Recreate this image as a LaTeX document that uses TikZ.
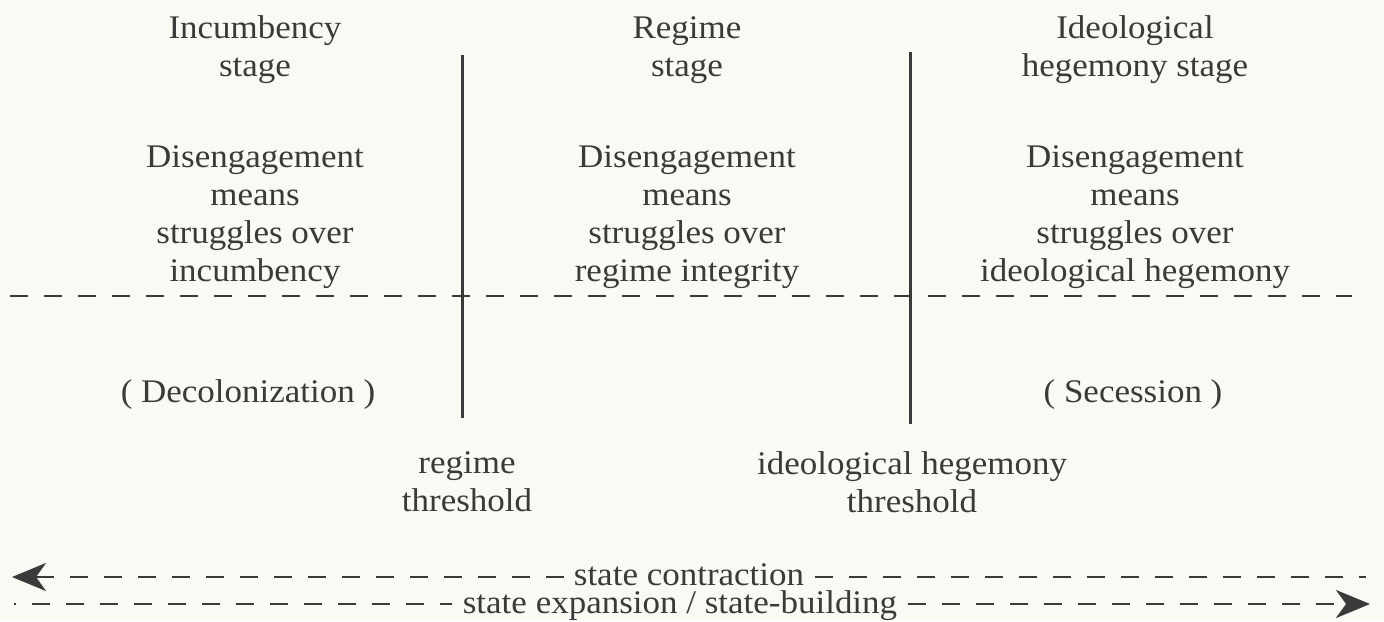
\documentclass[tikz,border=0pt]{standalone}
\usepackage{fontspec}
\setmainfont[FakeStretch=1.06]{Liberation Serif}
\usetikzlibrary{arrows.meta}
\definecolor{ink}{HTML}{3A3A3A}
\definecolor{paper}{HTML}{FAFAF5}
\begin{document}
\begin{tikzpicture}[x=0.5pt,y=-0.5pt,
  txt/.style={align=center,text=ink,font=\fontsize{16.5}{19}\selectfont,inner sep=0pt},
  axis/.style={txt,inner xsep=5pt,text height=8pt,text depth=1pt,anchor=base},
  vline/.style={draw=ink,line width=1.5pt},
  dline/.style={draw=ink,line width=1.4pt,dash pattern=on 9pt off 8pt},
  tip/.style={-{Stealth[length=17pt,width=14pt,inset=5pt]}}
]
\fill[paper] (0,0) rectangle (1384,621);
\useasboundingbox (0,0) rectangle (1384,621);
% vertical thresholds
\coordinate (v1t) at (462,55); \coordinate (v1b) at (462,418);
\coordinate (v2t) at (910,52); \coordinate (v2b) at (910,424);
\draw[vline] (v1t) -- (v1b);
\draw[vline] (v2t) -- (v2b);
% horizontal dashed divider
\coordinate (hl) at (10,296); \coordinate (hr) at (1352,296);
\draw[dline] (hl) -- (hr);
% headers
\node[txt] (h1) at (255,50) {Incumbency\\stage};
\node[txt] (h2) at (687,50) {Regime\\stage};
\node[txt] (h3) at (1135,50) {Ideological\\hegemony stage};
% descriptions
\node[txt] (d1) at (255,217) {Disengagement\\means\\struggles over\\incumbency};
\node[txt] (d2) at (687,217) {Disengagement\\means\\struggles over\\regime integrity};
\node[txt] (d3) at (1135,217) {Disengagement\\means\\struggles over\\ideological hegemony};
% lower
\node[txt] (dec) at (248,395) {( Decolonization )};
\node[txt] (sec) at (1133,395) {( Secession )};
\node[txt] (t1) at (467,482) {regime\\threshold};
\node[txt] (t2) at (912,482) {ideological hegemony\\threshold};
% state contraction
\node[axis] (sc) at (689,585) {state contraction};
\coordinate (scl) at (12,577); \coordinate (scr) at (1366,577);
\draw[dline,tip] (sc.west |- scl) -- (scl);
\draw[dline] (sc.east |- scr) -- (scr);
% state expansion
\node[axis] (se) at (680,613) {state expansion / state-building};
\coordinate (sel) at (14,604); \coordinate (ser) at (1370,604);
\draw[dline,dash pattern=on 9pt off 8pt,dash phase=3pt] (se.west |- sel) -- (sel);
\draw[dline,tip] (se.east |- ser) -- (ser);
\end{tikzpicture}
\end{document}
